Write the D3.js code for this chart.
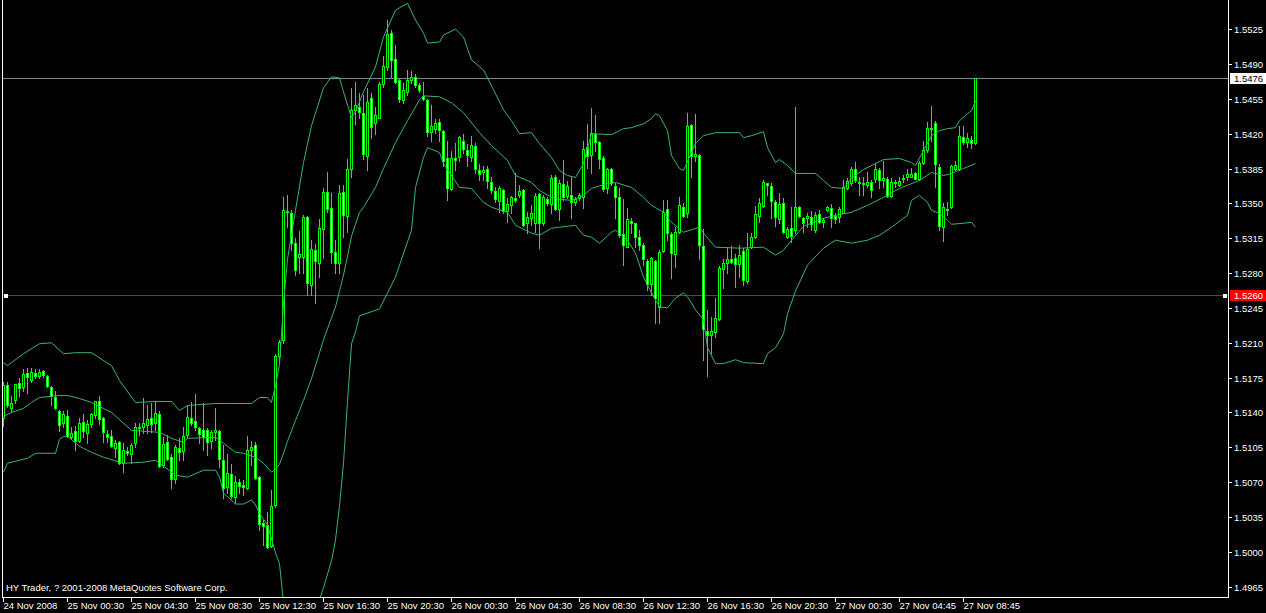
<!DOCTYPE html>
<html><head><meta charset="utf-8">
<script src="https://cdn.jsdelivr.net/npm/d3@7"></script>
<style>html,body{margin:0;padding:0;background:#000;overflow:hidden}svg{display:block}</style>
</head><body><svg id="c" width="1266" height="613"></svg>
<script>
// ---- data (EURUSD-like M15 candles) ----
const openP = [
1.5134,1.5168,1.5144,1.5153,1.5170,1.5166,1.5180,1.5173,1.5180,1.5177,
1.5182,1.5177,1.5166,1.5156,1.5141,1.5129,1.5136,1.5115,1.5121,1.5111,
1.5130,1.5119,1.5128,1.5137,1.5152,1.5134,1.5118,1.5116,1.5104,1.5110,
1.5089,1.5101,1.5098,1.5109,1.5124,1.5125,1.5127,1.5134,1.5129,1.5138,
1.5087,1.5110,1.5095,1.5073,1.5104,1.5101,1.5117,1.5134,1.5131,1.5124,
1.5122,1.5122,1.5111,1.5120,1.5121,1.5092,1.5065,1.5078,1.5055,1.5070,
1.5067,1.5064,1.5102,1.5107,1.5075,1.5029,1.5027,1.5006,1.5047,1.5197,
1.5213,1.5342,1.5340,1.5310,1.5296,1.5296,1.5336,1.5268,1.5303,1.5290,
1.5324,1.5361,1.5345,1.5301,1.5290,1.5361,1.5337,1.5384,1.5444,1.5447,
1.5441,1.5398,1.5456,1.5431,1.5436,1.5470,1.5487,1.5521,1.5495,1.5474,
1.5454,1.5462,1.5474,1.5477,1.5469,1.5458,1.5454,1.5422,1.5425,1.5432,
1.5423,1.5396,1.5364,1.5396,1.5397,1.5413,1.5404,1.5397,1.5408,1.5383,
1.5381,1.5384,1.5371,1.5362,1.5352,1.5363,1.5342,1.5348,1.5355,1.5358,
1.5363,1.5330,1.5335,1.5330,1.5359,1.5330,1.5354,1.5349,1.5376,1.5344,
1.5369,1.5357,1.5358,1.5351,1.5355,1.5356,1.5407,1.5399,1.5420,1.5412,
1.5396,1.5365,1.5385,1.5367,1.5356,1.5319,1.5306,1.5332,1.5330,1.5316,
1.5308,1.5292,1.5269,1.5292,1.5246,1.5302,1.5344,1.5319,1.5299,1.5321,
1.5346,1.5340,1.5429,1.5398,1.5399,1.5307,1.5222,1.5218,1.5221,1.5234,
1.5284,1.5290,1.5294,1.5295,1.5289,1.5302,1.5272,1.5306,1.5316,1.5337,
1.5347,1.5370,1.5367,1.5351,1.5334,1.5350,1.5316,1.5325,1.5323,1.5346,
1.5335,1.5335,1.5336,1.5323,1.5339,1.5331,1.5343,1.5345,1.5337,1.5336,
1.5340,1.5365,1.5370,1.5384,1.5371,1.5370,1.5368,1.5371,1.5374,1.5383,
1.5373,1.5374,1.5357,1.5371,1.5368,1.5374,1.5376,1.5376,1.5380,1.5374,
1.5391,1.5404,1.5426,1.5431,1.5387,1.5326,1.5344,1.5346,1.5384,1.5384,
1.5417,1.5412,1.5414,1.5411];
const highP = [
1.5171,1.5171,1.5157,1.5169,1.5175,1.5184,1.5185,1.5185,1.5184,1.5184,
1.5183,1.5178,1.5167,1.5162,1.5142,1.5141,1.5142,1.5125,1.5126,1.5134,
1.5138,1.5132,1.5139,1.5152,1.5157,1.5135,1.5122,1.5122,1.5112,1.5111,
1.5109,1.5105,1.5109,1.5129,1.5129,1.5155,1.5147,1.5149,1.5151,1.5141,
1.5115,1.5117,1.5098,1.5107,1.5114,1.5125,1.5147,1.5150,1.5159,1.5125,
1.5149,1.5124,1.5122,1.5144,1.5122,1.5107,1.5098,1.5088,1.5076,1.5073,
1.5072,1.5116,1.5111,1.5110,1.5076,1.5032,1.5040,1.5062,1.5199,1.5213,
1.5356,1.5358,1.5343,1.5315,1.5322,1.5338,1.5337,1.5313,1.5309,1.5334,
1.5365,1.5381,1.5360,1.5313,1.5368,1.5368,1.5395,1.5466,1.5472,1.5461,
1.5459,1.5466,1.5461,1.5447,1.5472,1.5498,1.5534,1.5524,1.5509,1.5475,
1.5471,1.5484,1.5483,1.5480,1.5471,1.5472,1.5455,1.5449,1.5435,1.5435,
1.5424,1.5413,1.5403,1.5411,1.5418,1.5420,1.5410,1.5418,1.5411,1.5390,
1.5388,1.5388,1.5376,1.5366,1.5367,1.5364,1.5355,1.5357,1.5380,1.5368,
1.5364,1.5341,1.5348,1.5360,1.5360,1.5358,1.5356,1.5378,1.5378,1.5373,
1.5394,1.5372,1.5376,1.5356,1.5360,1.5413,1.5430,1.5446,1.5439,1.5413,
1.5398,1.5386,1.5386,1.5370,1.5365,1.5354,1.5345,1.5335,1.5330,1.5323,
1.5310,1.5294,1.5296,1.5293,1.5303,1.5353,1.5353,1.5321,1.5326,1.5356,
1.5350,1.5441,1.5430,1.5440,1.5400,1.5324,1.5243,1.5236,1.5255,1.5287,
1.5294,1.5306,1.5307,1.5299,1.5308,1.5305,1.5320,1.5320,1.5347,1.5355,
1.5373,1.5370,1.5370,1.5353,1.5360,1.5355,1.5326,1.5346,1.5447,1.5347,
1.5336,1.5340,1.5342,1.5341,1.5343,1.5335,1.5347,1.5349,1.5340,1.5346,
1.5373,1.5375,1.5387,1.5392,1.5376,1.5376,1.5381,1.5373,1.5391,1.5386,
1.5393,1.5376,1.5375,1.5373,1.5376,1.5378,1.5385,1.5386,1.5381,1.5393,
1.5413,1.5432,1.5448,1.5433,1.5390,1.5350,1.5351,1.5389,1.5393,1.5428,
1.5428,1.5421,1.5418,1.5476];
const lowP = [
1.5126,1.5145,1.5140,1.5149,1.5157,1.5162,1.5160,1.5171,1.5175,1.5175,
1.5176,1.5166,1.5147,1.5143,1.5121,1.5125,1.5115,1.5113,1.5102,1.5110,
1.5115,1.5109,1.5125,1.5134,1.5128,1.5110,1.5110,1.5105,1.5095,1.5088,
1.5080,1.5097,1.5089,1.5105,1.5117,1.5119,1.5119,1.5120,1.5122,1.5085,
1.5085,1.5092,1.5064,1.5069,1.5092,1.5092,1.5114,1.5127,1.5122,1.5109,
1.5102,1.5097,1.5104,1.5112,1.5085,1.5054,1.5059,1.5054,1.5049,1.5059,
1.5057,1.5063,1.5087,1.5073,1.5022,1.5007,1.5004,1.5005,1.5045,1.5192,
1.5210,1.5326,1.5303,1.5278,1.5280,1.5280,1.5258,1.5258,1.5250,1.5276,
1.5295,1.5341,1.5290,1.5280,1.5280,1.5316,1.5321,1.5376,1.5430,1.5436,
1.5395,1.5383,1.5416,1.5420,1.5436,1.5467,1.5484,1.5477,1.5471,1.5452,
1.5451,1.5459,1.5471,1.5467,1.5462,1.5454,1.5418,1.5413,1.5421,1.5413,
1.5388,1.5353,1.5363,1.5383,1.5393,1.5401,1.5388,1.5393,1.5380,1.5373,
1.5373,1.5365,1.5360,1.5351,1.5341,1.5340,1.5331,1.5340,1.5351,1.5356,
1.5327,1.5320,1.5328,1.5321,1.5305,1.5328,1.5348,1.5340,1.5343,1.5333,
1.5353,1.5355,1.5335,1.5348,1.5353,1.5345,1.5386,1.5380,1.5403,1.5386,
1.5362,1.5360,1.5368,1.5335,1.5316,1.5288,1.5306,1.5320,1.5306,1.5303,
1.5288,1.5263,1.5258,1.5230,1.5230,1.5301,1.5313,1.5275,1.5286,1.5320,
1.5336,1.5336,1.5376,1.5393,1.5294,1.5193,1.5177,1.5200,1.5216,1.5233,
1.5265,1.5280,1.5290,1.5266,1.5276,1.5268,1.5270,1.5305,1.5315,1.5331,
1.5346,1.5358,1.5335,1.5327,1.5330,1.5320,1.5315,1.5311,1.5320,1.5336,
1.5321,1.5326,1.5323,1.5321,1.5330,1.5326,1.5342,1.5326,1.5330,1.5331,
1.5340,1.5364,1.5368,1.5371,1.5358,1.5358,1.5366,1.5356,1.5371,1.5365,
1.5366,1.5356,1.5356,1.5366,1.5367,1.5371,1.5373,1.5376,1.5374,1.5373,
1.5390,1.5402,1.5413,1.5366,1.5323,1.5312,1.5338,1.5345,1.5383,1.5383,
1.5410,1.5407,1.5406,1.5410];
const closeP = [
1.5168,1.5147,1.5149,1.5169,1.5165,1.5179,1.5176,1.5181,1.5177,1.5181,
1.5178,1.5167,1.5157,1.5144,1.5127,1.5138,1.5116,1.5119,1.5111,1.5129,
1.5121,1.5128,1.5138,1.5151,1.5133,1.5120,1.5115,1.5106,1.5109,1.5089,
1.5102,1.5099,1.5107,1.5125,1.5125,1.5129,1.5133,1.5128,1.5139,1.5086,
1.5108,1.5093,1.5073,1.5105,1.5100,1.5116,1.5135,1.5129,1.5125,1.5118,
1.5115,1.5110,1.5120,1.5122,1.5093,1.5064,1.5079,1.5056,1.5070,1.5066,
1.5065,1.5102,1.5105,1.5074,1.5028,1.5026,1.5005,1.5046,1.5197,1.5211,
1.5343,1.5341,1.5310,1.5283,1.5299,1.5336,1.5270,1.5304,1.5292,1.5325,
1.5361,1.5344,1.5301,1.5290,1.5360,1.5338,1.5385,1.5444,1.5449,1.5442,
1.5400,1.5452,1.5427,1.5439,1.5470,1.5488,1.5520,1.5494,1.5472,1.5455,
1.5464,1.5474,1.5477,1.5469,1.5464,1.5455,1.5422,1.5428,1.5431,1.5424,
1.5393,1.5365,1.5396,1.5394,1.5417,1.5405,1.5399,1.5409,1.5385,1.5379,
1.5383,1.5372,1.5363,1.5354,1.5365,1.5342,1.5349,1.5356,1.5353,1.5362,
1.5328,1.5336,1.5340,1.5357,1.5330,1.5356,1.5350,1.5375,1.5344,1.5370,
1.5356,1.5367,1.5351,1.5354,1.5358,1.5405,1.5398,1.5421,1.5412,1.5395,
1.5364,1.5384,1.5370,1.5356,1.5318,1.5308,1.5334,1.5330,1.5316,1.5308,
1.5294,1.5269,1.5295,1.5255,1.5301,1.5341,1.5320,1.5300,1.5321,1.5348,
1.5337,1.5428,1.5398,1.5400,1.5308,1.5224,1.5218,1.5222,1.5235,1.5285,
1.5290,1.5294,1.5291,1.5289,1.5298,1.5273,1.5304,1.5316,1.5339,1.5350,
1.5371,1.5368,1.5352,1.5336,1.5349,1.5321,1.5324,1.5317,1.5346,1.5337,
1.5330,1.5337,1.5329,1.5338,1.5331,1.5333,1.5346,1.5335,1.5334,1.5344,
1.5366,1.5372,1.5385,1.5373,1.5370,1.5369,1.5371,1.5363,1.5384,1.5373,
1.5375,1.5357,1.5371,1.5370,1.5372,1.5375,1.5379,1.5379,1.5374,1.5391,
1.5404,1.5426,1.5425,1.5390,1.5327,1.5346,1.5343,1.5388,1.5389,1.5418,
1.5412,1.5416,1.5411,1.5476];

// Bollinger bands: [bar index, price]
const bandUpper = [[0,1.5190],[1,1.5187],[5,1.5199],[9,1.5209],[12,1.5210],[15,1.5199],[18,1.5200],[22,1.5200],[27,1.5187],[29,1.5172],[33,1.5150],[38,1.5151],[42,1.5151],[44,1.5142],[46,1.5147],[53,1.5149],[57,1.5149],[62,1.5149],[64,1.5155],[66,1.5155],[67,1.5150],[68,1.5167],[69,1.5188],[70,1.5249],[71,1.5294],[73,1.5343],[75,1.5391],[77,1.5428],[80,1.5466],[82,1.5477],[84,1.5476],[85,1.5462],[87,1.5436],[88,1.5442],[90,1.5462],[93,1.5487],[95,1.5517],[98,1.5544],[101,1.5551],[103,1.5534],[105,1.5521],[106,1.5511],[109,1.5512],[110,1.5519],[113,1.5525],[115,1.5517],[117,1.5494],[120,1.5484],[122,1.5468],[125,1.5444],[127,1.5433],[129,1.5420],[132,1.5421],[134,1.5410],[137,1.5396],[139,1.5383],[141,1.5378],[143,1.5376],[145,1.5390],[147,1.5420],[152,1.5419],[155,1.5425],[157,1.5426],[160,1.5430],[162,1.5435],[163,1.5440],[164,1.5438],[166,1.5423],[167,1.5398],[169,1.5385],[170,1.5383],[173,1.5410],[175,1.5418],[178,1.5421],[184,1.5421],[185,1.5416],[187,1.5418],[190,1.5422],[191,1.5406],[193,1.5391],[194,1.5394],[196,1.5388],[198,1.5380],[203,1.5380],[205,1.5373],[207,1.5366],[210,1.5365],[212,1.5375],[215,1.5384],[218,1.5390],[220,1.5394],[224,1.5395],[227,1.5391],[228,1.5388],[230,1.5403],[232,1.5418],[234,1.5423],[236,1.5425],[238,1.5426],[239,1.5433],[241,1.5440],[242,1.5443],[243,1.5453]];
const bandMiddle = [[0,1.5136],[2,1.5140],[5,1.5144],[7,1.5150],[9,1.5155],[14,1.5157],[16,1.5157],[19,1.5154],[22,1.5150],[27,1.5140],[32,1.5122],[39,1.5120],[42,1.5114],[45,1.5110],[46,1.5114],[53,1.5115],[55,1.5109],[58,1.5100],[60,1.5099],[63,1.5095],[65,1.5089],[67,1.5080],[68,1.5083],[69,1.5088],[70,1.5099],[71,1.5111],[73,1.5132],[75,1.5152],[77,1.5174],[80,1.5213],[82,1.5235],[83,1.5246],[84,1.5262],[85,1.5278],[86,1.5297],[87,1.5317],[88,1.5329],[89,1.5341],[90,1.5346],[93,1.5366],[95,1.5385],[98,1.5411],[101,1.5433],[104,1.5454],[105,1.5458],[109,1.5457],[112,1.5451],[115,1.5441],[119,1.5421],[122,1.5408],[126,1.5393],[128,1.5378],[132,1.5371],[134,1.5363],[137,1.5356],[139,1.5354],[142,1.5353],[145,1.5358],[147,1.5365],[151,1.5370],[153,1.5371],[157,1.5366],[160,1.5356],[162,1.5348],[165,1.5341],[167,1.5331],[170,1.5321],[174,1.5326],[175,1.5320],[178,1.5306],[184,1.5305],[190,1.5306],[193,1.5298],[195,1.5303],[197,1.5313],[200,1.5327],[205,1.5335],[208,1.5338],[212,1.5341],[216,1.5348],[220,1.5356],[224,1.5365],[229,1.5373],[232,1.5381],[235,1.5378],[237,1.5380],[240,1.5385],[243,1.5390]];
const bandLower = [[0,1.5080],[1,1.5089],[4,1.5092],[6,1.5094],[8,1.5099],[13,1.5099],[14,1.5113],[15,1.5116],[16,1.5116],[19,1.5106],[22,1.5100],[25,1.5095],[30,1.5089],[35,1.5090],[38,1.5092],[43,1.5077],[46,1.5075],[50,1.5082],[53,1.5082],[54,1.5075],[55,1.5059],[58,1.5048],[60,1.5048],[62,1.5052],[63,1.5047],[64,1.5039],[66,1.5027],[68,1.4999],[69,1.4988],[70,1.4949],[71,1.4927],[73,1.4911],[75,1.4913],[77,1.4929],[80,1.4964],[82,1.4991],[83,1.5012],[84,1.5046],[85,1.5089],[86,1.5151],[87,1.5209],[88,1.5221],[89,1.5237],[94,1.5244],[98,1.5276],[102,1.5323],[103,1.5366],[105,1.5396],[106,1.5406],[109,1.5401],[110,1.5390],[114,1.5366],[117,1.5365],[120,1.5351],[122,1.5346],[126,1.5341],[128,1.5328],[132,1.5320],[134,1.5318],[137,1.5325],[139,1.5326],[143,1.5328],[145,1.5318],[147,1.5316],[149,1.5310],[152,1.5321],[153,1.5323],[156,1.5313],[158,1.5300],[160,1.5276],[162,1.5260],[164,1.5246],[166,1.5245],[168,1.5255],[170,1.5260],[171,1.5256],[172,1.5250],[173,1.5243],[175,1.5233],[176,1.5205],[178,1.5189],[180,1.5189],[183,1.5193],[185,1.5190],[190,1.5189],[191,1.5199],[193,1.5205],[195,1.5219],[196,1.5239],[198,1.5262],[201,1.5288],[205,1.5305],[208,1.5313],[212,1.5310],[216,1.5313],[219,1.5318],[222,1.5326],[226,1.5338],[227,1.5353],[229,1.5358],[231,1.5351],[232,1.5343],[234,1.5340],[236,1.5333],[237,1.5329],[240,1.5330],[242,1.5331],[243,1.5326]];

const timeLabels = ["24 Nov 2008","25 Nov 00:30","25 Nov 04:30","25 Nov 08:30","25 Nov 12:30","25 Nov 16:30","25 Nov 20:30","26 Nov 00:30","26 Nov 04:30","26 Nov 08:30","26 Nov 12:30","26 Nov 16:30","26 Nov 20:30","27 Nov 00:30","27 Nov 04:45","27 Nov 08:45"];
const barsPerLabel = 16;
const priceTicks = [1.4965,1.5000,1.5035,1.5070,1.5105,1.5140,1.5175,1.5210,1.5245,1.5280,1.5315,1.5350,1.5385,1.5420,1.5455,1.5490,1.5525];
const hLineValues = [1.5476, 1.5258];
const hLineLabels = ["1.5476", "1.5260"];
const copyright = "HY Trader, ? 2001-2008 MetaQuotes Software Corp.";

// ---- drawing ----
const W = 1266, H = 613;
const plotRight = 1228, plotBottom = 597;
const svg = d3.select("#c");
const FONT = "'Liberation Sans', Arial, sans-serif";

const x = d3.scaleLinear().domain([0, 1]).range([3.5, 7.5]);
const y = d3.scaleLinear().domain([1.4965, 1.5525]).range([586.7, 29.1]);

svg.append("rect").attr("width", W).attr("height", H).attr("fill", "#000");
svg.append("defs").append("clipPath").attr("id", "plot")
  .append("rect").attr("x", 3).attr("y", 0).attr("width", plotRight - 3).attr("height", plotBottom);

const g = svg.append("g").attr("clip-path", "url(#plot)");

// horizontal objects
const hColors = ["#778899", "#ff0000"];
hLineValues.forEach((v, k) => {
  const yy = Math.round(y(v)) + 0.5;
  g.append("line").attr("x1", 3).attr("x2", plotRight).attr("y1", yy).attr("y2", yy)
    .attr("stroke", hColors[k]).attr("stroke-width", 1).attr("shape-rendering", "crispEdges");
});

// candles
const n = closeP.length;
const cg = g.append("g");
for (let i = 0; i < n; i++) {
  const cx = x(i);
  const yh = Math.round(y(highP[i])), yl = Math.round(y(lowP[i]));
  cg.append("rect").attr("x", cx - 0.5).attr("y", yh).attr("width", 1).attr("height", Math.max(1, yl - yh + 1))
    .attr("fill", "#00ff00").attr("shape-rendering", "crispEdges");
  const top = Math.round(y(Math.max(openP[i], closeP[i])));
  const bot = Math.round(y(Math.min(openP[i], closeP[i])));
  const bear = closeP[i] < openP[i];
  cg.append("rect").attr("x", cx - 1.5).attr("y", top).attr("width", 3).attr("height", Math.max(1, bot - top + 1))
    .attr("fill", "#00ff00").attr("shape-rendering", "crispEdges");
  if (bot - top >= 2) {
    cg.append("rect").attr("x", cx - 0.5).attr("y", top + 1).attr("width", 1).attr("height", bot - top - 1)
      .attr("fill", bear ? "#ffffff" : "#000000").attr("shape-rendering", "crispEdges");
  }
}

// bollinger bands
const line = d3.line().x(d => x(d[0])).y(d => y(d[1]));
[bandUpper, bandMiddle, bandLower].forEach(b => {
  g.append("path").attr("d", line(b)).attr("fill", "none").attr("stroke", "#3cb371").attr("stroke-width", 1);
});

// red line end markers
const yr = Math.round(y(hLineValues[1]));
[4, plotRight - 5].forEach(px => {
  svg.append("rect").attr("x", px).attr("y", yr - 1.5).attr("width", 4).attr("height", 4)
    .attr("fill", "#ffffff").attr("shape-rendering", "crispEdges");
});

// frame
svg.append("line").attr("x1", 2.5).attr("x2", 2.5).attr("y1", 0).attr("y2", plotBottom + 1)
  .attr("stroke", "#fff").attr("shape-rendering", "crispEdges");
svg.append("line").attr("x1", plotRight + 0.5).attr("x2", plotRight + 0.5).attr("y1", 0).attr("y2", plotBottom + 1)
  .attr("stroke", "#fff").attr("shape-rendering", "crispEdges");
svg.append("line").attr("x1", 2).attr("x2", plotRight + 1).attr("y1", plotBottom + 0.5).attr("y2", plotBottom + 0.5)
  .attr("stroke", "#fff").attr("shape-rendering", "crispEdges");

// right price axis
const fmt = d3.format(".4f");
priceTicks.forEach(p => {
  const yy = Math.round(y(p)) + 0.5;
  svg.append("line").attr("x1", plotRight + 1).attr("x2", plotRight + 4).attr("y1", yy).attr("y2", yy)
    .attr("stroke", "#fff").attr("shape-rendering", "crispEdges");
  svg.append("text").attr("x", plotRight + 6).attr("y", yy).attr("dy", "0.36em")
    .attr("fill", "#fff").attr("font-family", FONT).attr("font-size", "9.5px").text(fmt(p));
});

// price labels for horizontal objects
const boxFill = ["#ffffff", "#ff0000"], boxText = ["#000000", "#ffffff"];
hLineValues.forEach((v, k) => {
  const yy = Math.round(y(v)) + 0.5;
  svg.append("rect").attr("x", plotRight + 2).attr("y", yy - 5.5).attr("width", W - plotRight - 2).attr("height", 11)
    .attr("fill", boxFill[k]).attr("shape-rendering", "crispEdges");
  svg.append("text").attr("x", plotRight + 6).attr("y", yy).attr("dy", "0.36em")
    .attr("fill", boxText[k]).attr("font-family", FONT).attr("font-size", "9.5px").text(hLineLabels[k]);
});

// bottom time axis
timeLabels.forEach((t, k) => {
  const xx = Math.round(x(k * barsPerLabel) - 1) + 0.5;
  svg.append("line").attr("x1", xx).attr("x2", xx).attr("y1", plotBottom + 1).attr("y2", plotBottom + 5)
    .attr("stroke", "#fff").attr("shape-rendering", "crispEdges");
  svg.append("text").attr("x", xx).attr("y", 609).attr("fill", "#fff")
    .attr("font-family", FONT).attr("font-size", "9.5px").text(t);
});

// copyright
svg.append("text").attr("x", 6).attr("y", 591).attr("fill", "#fff")
  .attr("font-family", FONT).attr("font-size", "9.5px").text(copyright);
</script>
</body></html>
